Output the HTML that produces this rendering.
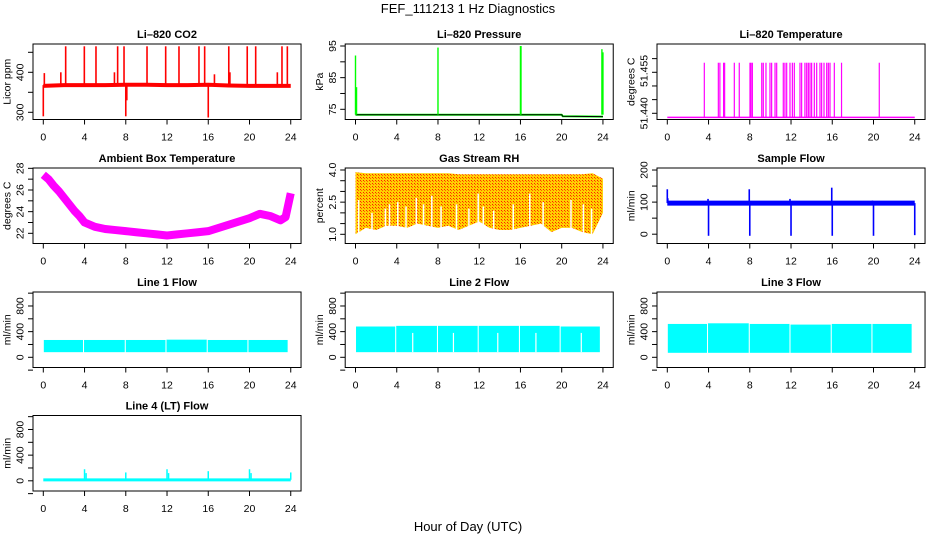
<!DOCTYPE html>
<html><head><meta charset="utf-8"><style>
html,body{margin:0;padding:0;background:#fff;}
svg{display:block;font-family:"Liberation Sans",sans-serif;}
</style></head><body>
<svg id="chart" width="936" height="540" viewBox="0 0 936 540" xmlns="http://www.w3.org/2000/svg">
<defs>
<pattern id="rhpat" width="3" height="3" patternUnits="userSpaceOnUse">
<rect width="3" height="3" fill="#ffd000"/><rect width="1" height="1" fill="#ff2000"/><rect x="1" y="1" width="1" height="1" fill="#ff6000"/>
</pattern>
</defs>
<text x="468" y="13" text-anchor="middle" font-size="13">FEF_111213  1 Hz Diagnostics</text>
<text x="468" y="531" text-anchor="middle" font-size="13">Hour of Day (UTC)</text>
</svg>
<script>
// ---- data ----
const xTicks = [0,4,8,12,16,20,24];
const co2BaseHours = [0,2,4,6,8,10,12,14,16,18,20,22,24];
const co2Base = [366,368,368,368,369,369,368,368,369,367,366,366,366];
const co2SpikeHours = [2.17,3.98,5.11,7.21,7.83,10.06,11.87,13.16,15.1,15.65,17.99,19.78,20.6,23.15,23.67,1.7,6.9,16.6,18.1,22.7,0.0,8.0,16.0,0.1,8.1];
const co2SpikeValues = [465,465,465,465,465,465,465,465,465,465,465,465,465,465,465,400,400,395,400,400,290,290,287,398,330];
const presBaseHours = [0,4,8,12,16,20,20.1,24];
const presBase = [73.3,73.3,73.3,73.3,73.3,73.3,72.8,72.7];
const presSpikeHours = [0.0,0.1,8.0,16.0,16.05,23.9,24.0];
const presSpikeValues = [92,82,94.5,95,95,94,93];
const tempSpikeHours = [3.59,4.95,5.1,5.46,5.56,6.5,6.98,8.02,8.12,8.25,9.16,9.31,9.57,9.96,10.12,10.45,10.61,11.25,11.41,11.58,11.9,12.13,12.32,12.87,13.03,13.35,13.52,13.68,13.84,14.0,14.26,14.49,14.81,14.97,15.2,15.46,15.62,15.78,16.2,16.9,20.56];
const tempBase = 51.4385;
const tempSpikeTop = 51.4585;
const ambHours = [0,0.5,1,1.5,2,2.5,3,3.5,4,5,6,7,8,9,10,11,12,13,14,15,16,17,18,19,20,21,22,23,23.5,24];
const ambValues = [27.4,27.0,26.4,25.9,25.3,24.7,24.1,23.6,23.0,22.6,22.4,22.3,22.2,22.1,22.0,21.9,21.8,21.9,22.0,22.1,22.2,22.5,22.8,23.1,23.4,23.8,23.6,23.2,23.5,25.7];
const rhHours = [0,1,2,3,4,5,6,7,8,9,10,11,12,13,14,15,16,17,18,19,20,21,22,23,24];
const rhTop = [3.9,3.85,3.85,3.85,3.85,3.85,3.85,3.85,3.85,3.85,3.8,3.8,3.8,3.8,3.8,3.8,3.8,3.8,3.8,3.8,3.8,3.8,3.8,3.85,3.6];
const rhBottom = [1.0,1.3,1.2,1.4,1.4,1.3,1.5,1.4,1.3,1.4,1.2,1.4,1.6,1.3,1.2,1.2,1.3,1.4,1.5,1.1,1.3,1.3,1.1,1.0,2.0];
const rhWhiteHours = [0.3,1.6,2.9,3.3,4.1,4.9,5.9,6.6,7.4,8.3,9.8,11.0,11.9,12.4,13.4,15.3,16.9,18.2,20.9,22.1,22.9];
const rhWhiteTop = [2.6,2.0,2.2,2.4,2.5,2.3,2.7,2.4,2.8,2.3,2.4,2.2,2.9,2.3,2.1,2.4,2.9,2.5,2.6,2.4,2.2];
const sampleBase = 97;
const sampleSpikeHours = [0.0,0.05,3.95,4.0,7.95,8.0,11.9,12.0,15.95,16.0,19.9,20.0,23.9,24.0];
const sampleSpikeValues = [140,112,110,-5,140,-5,110,-5,145,-5,105,-5,100,-3];
const flowSegStart = [0.05,3.95,8.0,11.95,15.95,19.9];
const flowSegEnd = [3.85,7.9,11.85,15.85,19.8,23.7];
const flow1Lo = [80,80,80,80,80,80];
const flow1Hi = [270,270,270,275,270,270];
const flow2Lo = [80,80,80,80,80,80];
const flow2Hi = [480,490,490,490,490,480];
const flow2Gaps = [5.55,9.5,13.8,17.5,21.9];
const flow3Lo = [70,70,70,70,70,70];
const flow3Hi = [520,530,520,510,520,520];
const flow4Base = 15;
const flow4SpikeHours = [4.0,4.15,8.0,12.0,12.15,16.0,20.0,20.15,24.0];
const flow4SpikeValues = [180,120,130,180,120,150,180,120,130];

// ---- layout ----
const NS="http://www.w3.org/2000/svg";
const svg=document.getElementById('chart');
const colX0=[43.3,355.5,667.3], rowTop=[44,168,292,415.5], H=75.5, PXH=10.31;
function el(tag,attrs,parent){const e=document.createElementNS(NS,tag);for(const k in attrs)e.setAttribute(k,attrs[k]);(parent||svg).appendChild(e);return e;}
function panel(name,title,col,row,ylo,yhi,yticks,ylabels,ytitle){
  const g=el('g',{});
  
  
  const x0=colX0[col], left=x0-10.3, top=rowTop[row], w=PXH*24+20.6, bot=top+H;
  const X=h=>x0+h*PXH, Y=v=>bot-(v-ylo)/(yhi-ylo)*H;
  const plot=el('g',{},g);
  
  
  const box=el('rect',{x:left,y:top,width:w,height:H,fill:'none',stroke:'#000','stroke-width':1},g);
  
  
  const t=el('text',{x:left+w/2,y:top-6,'text-anchor':'middle','font-size':11,'font-weight':'bold'},g);
  t.textContent=title;
  
  
  const xa=el('g',{},g);
  
  
  xTicks.forEach(h=>{el('line',{x1:X(h),x2:X(h),y1:bot,y2:bot+5,stroke:'#000'},xa);
    const l=el('text',{x:X(h),y:bot+21,'text-anchor':'middle','font-size':10.5},xa);l.textContent=h;
    
    });
  const ya=el('g',{},g);
  
  
  yticks.forEach(v=>el('line',{x1:left-5,x2:left,y1:Y(v),y2:Y(v),stroke:'#000'},ya));
  ylabels.forEach(lb=>{const yy=Y(lb[0]);const l=el('text',{x:left-13,y:yy,'text-anchor':'middle','font-size':10.5,transform:`rotate(-90 ${left-13} ${yy})`,dy:'0.35em'},ya);l.textContent=lb[1];
    
    });
  const yt=el('text',{x:left-26,y:top+H/2,'text-anchor':'middle','font-size':10.5,transform:`rotate(-90 ${left-26} ${top+H/2})`,dy:'0.35em'},ya);
  yt.textContent=ytitle;
  
  
  return {plot,X,Y,left,top,bot,w};
}
function line(p,xs,ys,color,sw){el('polyline',{points:xs.map((h,i)=>p.X(h)+','+p.Y(ys[i])).join(' '),fill:'none',stroke:color,'stroke-width':sw,'stroke-linejoin':'round'},p.plot);}
function spikes(p,hs,base,vals,color,sw){hs.forEach((h,i)=>el('line',{x1:p.X(h),x2:p.X(h),y1:p.Y(base),y2:p.Y(vals[i]),stroke:color,'stroke-width':sw||1.2},p.plot));}
function flowBands(p,lo,hi,color){flowSegStart.forEach((s,i)=>el('rect',{x:p.X(s),y:p.Y(hi[i]),width:p.X(flowSegEnd[i])-p.X(s),height:p.Y(lo[i])-p.Y(hi[i]),fill:color},p.plot));}
const flowTicks=[-200,0,200,400,600,800,1000], flowLabels=[[0,'0'],[400,'400'],[800,'800']];

// CO2
let p=panel('co2','Li\u2013820 CO2',0,0,282,470.75,[300,350,400,450],[[300,'300'],[400,'400']],'Licor ppm');
line(p,co2BaseHours,co2Base,'#ff0000',4);
spikes(p,co2SpikeHours,368,co2SpikeValues,'#ff0000',1.6);
// Pressure
p=panel('pressure','Li\u2013820 Pressure',1,0,71.78,95.63,[75,80,85,90,95],[[75,'75'],[85,'85'],[95,'95']],'kPa');
line(p,presBaseHours,presBase,'#00ff00',2);
line(p,presBaseHours,presBase,'#000000',1);
spikes(p,presSpikeHours,73.3,presSpikeValues,'#00ff00',1.4);
// Temperature
p=panel('li820-temp','Li\u2013820 Temperature',2,0,51.43773,51.46535,[51.440,51.445,51.450,51.455,51.460],[[51.440,'51.440'],[51.4555,'51.455']],'degrees C');
line(p,[0,24],[tempBase,tempBase],'#ff00ff',1.5);
spikes(p,tempSpikeHours,tempBase,tempSpikeHours.map(()=>tempSpikeTop),'#ff00ff',1.2);
// Ambient
p=panel('ambient-temp','Ambient Box Temperature',0,1,21.06,28.03,[22,23,24,25,26,27,28],[[22,'22'],[24,'24'],[26,'26'],[28,'28']],'degrees C');
line(p,ambHours,ambValues,'#ff00ff',8);
// RH
p=panel('gas-rh','Gas Stream RH',1,1,0.571,4.093,[1,1.5,2,2.5,3,3.5,4],[[1,'1.0'],[2.5,'2.5'],[4,'4.0']],'percent');
{const pts=rhHours.map((h,i)=>p.X(h)+','+p.Y(rhTop[i])).concat(rhHours.slice().reverse().map((h,j)=>{const i=rhHours.length-1-j;return p.X(h)+','+p.Y(rhBottom[i]);}));
el('polygon',{points:pts.join(' '),fill:'url(#rhpat)'},p.plot);
rhWhiteHours.forEach((h,i)=>el('line',{x1:p.X(h),x2:p.X(h),y1:p.Y(0.6),y2:p.Y(rhWhiteTop[i]),stroke:'#fff','stroke-width':1.5},p.plot));}
// Sample flow
p=panel('sample-flow','Sample Flow',2,1,-29,206.3,[0,50,100,150,200],[[0,'0'],[100,'100'],[200,'200']],'ml/min');
line(p,[0,24],[sampleBase,sampleBase],'#0000ff',5);
spikes(p,sampleSpikeHours,sampleBase,sampleSpikeValues,'#0000ff',1.6);
// Line flows
p=panel('line1-flow','Line 1 Flow',0,2,-159,1018,flowTicks,flowLabels,'ml/min');
flowBands(p,flow1Lo,flow1Hi,'#00ffff');
p=panel('line2-flow','Line 2 Flow',1,2,-159,1018,flowTicks,flowLabels,'ml/min');
flowBands(p,flow2Lo,flow2Hi,'#00ffff');
flow2Gaps.forEach(h=>el('line',{x1:p.X(h),x2:p.X(h),y1:p.Y(80),y2:p.Y(380),stroke:'#fff','stroke-width':1.2},p.plot));
p=panel('line3-flow','Line 3 Flow',2,2,-159,1018,flowTicks,flowLabels,'ml/min');
flowBands(p,flow3Lo,flow3Hi,'#00ffff');
p=panel('line4-flow','Line 4 (LT) Flow',0,3,-159,1018,flowTicks,flowLabels,'ml/min');
line(p,[0,24],[flow4Base,flow4Base],'#00ffff',3);
spikes(p,flow4SpikeHours,flow4Base,flow4SpikeValues,'#00ffff',1.5);
</script>
</body></html>
